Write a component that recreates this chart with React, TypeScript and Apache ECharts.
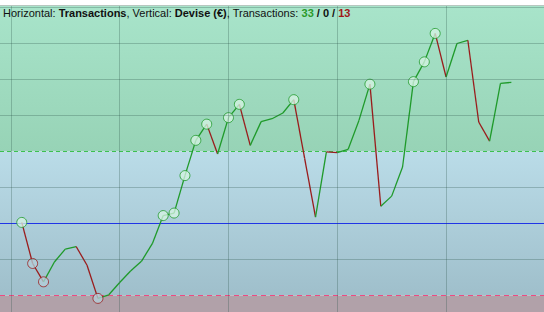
import React, { useEffect, useRef } from "react";
import * as echarts from "echarts";

// Transaction index (horizontal) and equity in € (vertical)
const transactions = [
  1, 2, 3, 4, 5, 6, 7, 8, 9, 10, 11, 12, 13, 14, 15, 16, 17, 18, 19, 20, 21, 22, 23,
  24, 25, 26, 27, 28, 29, 30, 31, 32, 33, 34, 35, 36, 37, 38, 39, 40, 41, 42, 43, 44, 45, 46,
];
const equity = [
  3, -111, -162, -107, -71, -64, -116, -208, -198, -164, -132, -105, -56, 22, 29, 133,
  231, 276, 193, 294, 331, 217, 283, 291, 307, 344, 181, 18, 199, 197, 206, 287, 387,
  48, 76, 157, 394, 449, 528, 407, 500, 509, 282, 229, 389, 392,
];
const xGridTicks = [0, 10, 20, 30, 40];
const yGridTicks = [-100, 100, 300, 400, 500, 600];
const startLevel = 0;
const upperLevel = 200;
const lowerLevel = -200;
const levels = [upperLevel, startLevel, lowerLevel];
const wins = 33;
const even = 0;
const losses = 13;

const X_MIN = -1;
const X_MAX = 49;
const Y_MIN = -245.83;
const Y_MAX = 604.17;

const GREEN = "#1f9a2a";
const RED = "#9a1c1c";

const levelStyles = [
  { stroke: "#3cc050", lineWidth: 1, lineDash: [4, 3] },
  { stroke: "#2035e6", lineWidth: 1 },
  { stroke: "#ee4a82", lineWidth: 1, lineDash: [5, 4] },
];

export default function App() {
  const ref = useRef<HTMLDivElement>(null);
  useEffect(() => {
    if (!ref.current) return;
    const chart = echarts.init(ref.current, undefined, { renderer: "svg" });
    const pts = transactions.map((t, i) => [t, equity[i]]);
    // record highs / lows
    const highs: number[][] = [];
    const lows: number[][] = [];
    let hi = startLevel;
    let lo = startLevel;
    equity.forEach((v, i) => {
      if (v > hi) {
        hi = v;
        highs.push([transactions[i], v]);
      } else if (v < lo) {
        lo = v;
        lows.push([transactions[i], v]);
      }
    });
    const gridStyle = { color: "rgba(40,80,70,0.28)", width: 1, type: "solid" as const };
    const base = { fontFamily: "Liberation Sans", fontSize: 11 };
    const bold = { ...base, fontWeight: "bold" };
    chart.setOption({
      animation: false,
      grid: {
        left: 0,
        right: 0,
        top: 6,
        bottom: 0,
        show: true,
        borderColor: "#6f8f80",
        borderWidth: 1,
      },
      xAxis: {
        type: "value",
        min: X_MIN,
        max: X_MAX,
        show: false,
        splitLine: { show: false },
      },
      yAxis: {
        type: "value",
        min: Y_MIN,
        max: Y_MAX,
        show: false,
        splitLine: { show: false },
      },
      graphic: [
        {
          type: "text",
          left: 3,
          top: 7,
          z: 100,
          style: {
            text:
              "{n|Horizontal: }{b|Transactions}{n|, Vertical: }{b|Devise (€)}{n|, Transactions: }{g|" +
              wins +
              "}{b| / " +
              even +
              " / }{r|" +
              losses +
              "}",
            font: "11px 'Liberation Sans', Arial, sans-serif",
            fill: "#111",
            rich: {
              n: { ...base, fill: "#111" },
              b: { ...bold, fill: "#111" },
              g: { ...bold, fill: "#2a9a2a" },
              r: { ...bold, fill: "#a01818" },
            },
          },
        },
      ],
      series: [
        {
          type: "line",
          data: pts,
          z: 1,
          showSymbol: false,
          silent: true,
          lineStyle: { width: 0, opacity: 0 },
          markArea: {
            silent: true,
            data: [
              [
                {
                  yAxis: upperLevel,
                  itemStyle: {
                    color: new echarts.graphic.LinearGradient(0, 0, 0, 1, [
                      { offset: 0, color: "#a8e4ca" },
                      { offset: 1, color: "#97d3b6" },
                    ]),
                  },
                },
                { yAxis: Y_MAX },
              ],
              [
                {
                  yAxis: lowerLevel,
                  itemStyle: {
                    color: new echarts.graphic.LinearGradient(0, 0, 0, 1, [
                      { offset: 0, color: "#badce8" },
                      { offset: 1, color: "#9fbfcb" },
                    ]),
                  },
                },
                { yAxis: upperLevel },
              ],
              [
                { yAxis: Y_MIN, itemStyle: { color: "#b1a1a9" } },
                { yAxis: lowerLevel },
              ],
            ],
          },
          markLine: {
            silent: true,
            symbol: "none",
            label: { show: false },
            lineStyle: gridStyle,
            data: [
              ...xGridTicks.map((x) => ({ xAxis: x })),
              ...yGridTicks.map((y) => ({ yAxis: y })),
            ],
          },
        },
        {
          type: "custom",
          z: 2,
          silent: true,
          data: levels.map((l) => [X_MIN, l]),
          encode: { x: 0, y: 1 },
          renderItem: (params: any, api: any) => {
            const i = params.dataIndex;
            const a = api.coord([X_MIN, levels[i]]);
            const b = api.coord([X_MAX, levels[i]]);
            const y = Math.round(a[1] - 0.5) + 0.5;
            return {
              type: "line",
              shape: { x1: a[0], y1: y, x2: b[0], y2: y },
              style: { ...levelStyles[i], fill: null },
            };
          },
        },
        {
          type: "custom",
          z: 3,
          silent: true,
          data: pts,
          encode: { x: 0, y: 1 },
          renderItem: (params: any, api: any) => {
            const i = params.dataIndex;
            if (i === 0) return null;
            const p0 = api.coord([transactions[i - 1], equity[i - 1]]);
            const p1 = api.coord([transactions[i], equity[i]]);
            const up = equity[i] >= equity[i - 1];
            return {
              type: "line",
              shape: { x1: p0[0], y1: p0[1], x2: p1[0], y2: p1[1] },
              style: { stroke: up ? GREEN : RED, lineWidth: 1.3 },
            };
          },
        },
        {
          type: "scatter",
          z: 4,
          silent: true,
          data: highs,
          symbol: "circle",
          symbolSize: 10,
          itemStyle: { color: "rgba(214,243,228,0.95)", borderColor: GREEN, borderWidth: 1 },
        },
        {
          type: "scatter",
          z: 4,
          silent: true,
          data: lows,
          symbol: "circle",
          symbolSize: 10,
          itemStyle: { color: "rgba(180,208,218,0.95)", borderColor: RED, borderWidth: 1 },
        },
      ],
    });
    return () => chart.dispose();
  }, []);
  return (
    <div
      ref={ref}
      style={{ position: "fixed", left: 0, top: 0, width: 544, height: 312, background: "#fff" }}
    />
  );
}
